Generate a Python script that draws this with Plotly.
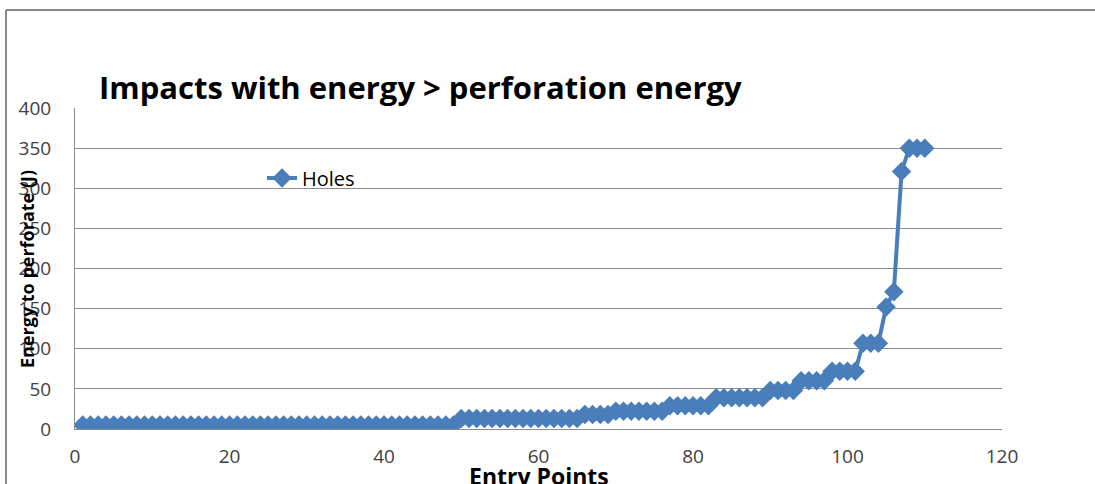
import plotly.graph_objects as go

# Entry point index and energy needed to perforate at each one (J)
entry_points = list(range(1, 111))
energy_j = [
    5, 5, 5, 5, 5, 5, 5, 5, 5, 5,
    5, 5, 5, 5, 5, 5, 5, 5, 5, 5,
    5, 5, 5, 5, 5, 5, 5, 5, 5, 5,
    5, 5, 5, 5, 5, 5, 5, 5, 5, 5,
    5, 5, 5, 5, 5, 5, 5, 5, 5, 13,
    13, 13, 13, 13, 13, 13, 13, 13, 13, 13,
    13, 13, 13, 13, 13, 18, 18, 18, 18, 22,
    22, 22, 22, 22, 22, 22, 29, 29, 29, 29,
    29, 29, 39, 39, 39, 39, 39, 39, 39, 48,
    48, 48, 48, 60, 60, 60, 60, 72, 72, 72,
    72, 107, 107, 107, 152, 171, 321, 350, 350, 350,
]

series_name = "Holes"
chart_title = "Impacts with energy > perforation energy"
x_title = "Entry Points"
y_title = "Energy to perforate (J)"
x_ticks = [0, 20, 40, 60, 80, 100, 120]
y_ticks = [0, 50, 100, 150, 200, 250, 300, 350, 400]

W, H = 1095, 484
L, R, T, B = 75, 93, 108, 55
PW, PH = W - L - R, H - T - B

BLUE = "#4A7EBB"
GRID = "#8C8C8C"
FONT = "Open Sans"


def px_x(px):
    return (px - L) / PW


def px_y(py):
    return (H - B - py) / PH


fig = go.Figure()
fig.add_trace(go.Scatter(
    x=entry_points,
    y=energy_j,
    mode="lines+markers",
    name=series_name,
    line=dict(color=BLUE, width=4),
    marker=dict(symbol="diamond", size=15, color=BLUE,
                line=dict(color=BLUE, width=0)),
))

fig.update_layout(
    width=W,
    height=H,
    margin=dict(l=L, r=R, t=T, b=B),
    paper_bgcolor="white",
    plot_bgcolor="white",
    font=dict(family=FONT, color="#404040", size=19),
    title=dict(
        text="<b>" + chart_title + "</b>",
        font=dict(family=FONT, size=31, color="black"),
        xref="container", yref="container",
        x=99 / W, xanchor="left",
        y=1 - 88 / H, yanchor="middle",
    ),
    showlegend=True,
    legend=dict(
        x=px_x(262), y=px_y(178), xanchor="left", yanchor="middle",
        bgcolor="rgba(0,0,0,0)",
        font=dict(family=FONT, size=20, color="black"),
    ),
    xaxis=dict(
        range=[0, 120], tickvals=x_ticks, showgrid=False,
        showline=True, linecolor=GRID, linewidth=1,
        zeroline=False, ticks="", ticklabelstandoff=10,
        automargin=False,
    ),
    yaxis=dict(
        range=[0, 400], tickvals=y_ticks, showgrid=True,
        gridcolor=GRID, gridwidth=1,
        showline=True, linecolor=GRID, linewidth=1,
        zeroline=False, ticks="", ticklabelstandoff=19,
        automargin=False,
    ),
)

# Axis titles placed over the chart area
fig.add_annotation(
    text="<b>" + y_title + "</b>", textangle=-90,
    xref="paper", yref="paper", x=px_x(27), y=px_y(269),
    xanchor="center", yanchor="middle", showarrow=False,
    font=dict(family=FONT, size=18, color="black"),
)
fig.add_annotation(
    text="<b>" + x_title + "</b>",
    xref="paper", yref="paper", x=0.5, y=px_y(476),
    xanchor="center", yanchor="middle", showarrow=False,
    font=dict(family=FONT, size=23, color="black"),
)

# Outer chart frame (top and left edges)
frame = dict(color="#888888", width=2)
fig.add_shape(type="line", xref="paper", yref="paper",
              x0=px_x(6), y0=px_y(10), x1=px_x(W + 5), y1=px_y(10), line=frame)
fig.add_shape(type="line", xref="paper", yref="paper",
              x0=px_x(6), y0=px_y(10), x1=px_x(6), y1=px_y(H + 5), line=frame)

fig.write_html("out.html")
